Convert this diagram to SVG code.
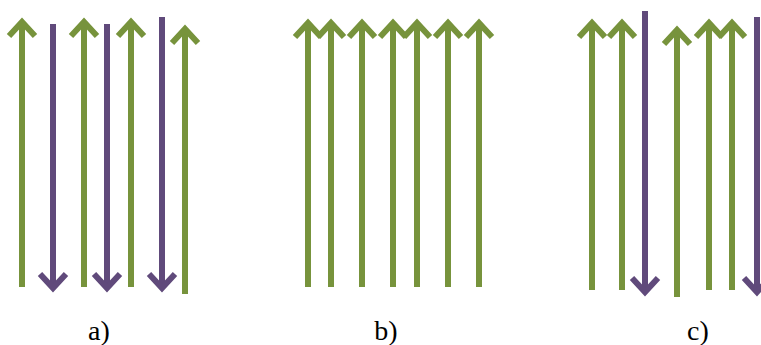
<svg xmlns="http://www.w3.org/2000/svg" width="761" height="345" viewBox="0 0 761 345">
<style>
.g{stroke:#77933C;stroke-width:6;fill:none;marker-end:url(#mg)}
.p{stroke:#604A7B;stroke-width:6;fill:none;marker-end:url(#mp)}
.lbl{font-family:"Liberation Serif","Times New Roman",serif;font-size:28px;fill:#000;text-anchor:middle}
</style>
<defs>
<marker id="mg" markerUnits="userSpaceOnUse" orient="auto" overflow="visible" refX="0" refY="0" markerWidth="30" markerHeight="30">
<path d="M-14,-13 L0,0 L-14,13" fill="none" stroke="#77933C" stroke-width="6" stroke-linejoin="miter"/>
</marker>
<marker id="mp" markerUnits="userSpaceOnUse" orient="auto" overflow="visible" refX="0" refY="0" markerWidth="30" markerHeight="30">
<path d="M-14,-13 L0,0 L-14,13" fill="none" stroke="#604A7B" stroke-width="6" stroke-linejoin="miter"/>
</marker>
</defs>
<rect width="761" height="345" fill="#fff"/>
<g id="connectors">
<g id="panel-a">
<line class="g" x1="22" y1="287" x2="22" y2="22"/>
<line class="p" x1="53" y1="24" x2="53" y2="288"/>
<line class="g" x1="84" y1="287" x2="84" y2="22"/>
<line class="p" x1="107" y1="24" x2="107" y2="288"/>
<line class="g" x1="131" y1="287" x2="131" y2="22"/>
<line class="p" x1="162" y1="17" x2="162" y2="288"/>
<line class="g" x1="185" y1="294" x2="185" y2="29"/>
</g>
<g id="panel-b">
<line class="g" x1="308" y1="287" x2="308" y2="23"/>
<line class="g" x1="331" y1="287" x2="331" y2="23"/>
<line class="g" x1="362" y1="287" x2="362" y2="23"/>
<line class="g" x1="393" y1="287" x2="393" y2="23"/>
<line class="g" x1="417" y1="287" x2="417" y2="23"/>
<line class="g" x1="448" y1="287" x2="448" y2="23"/>
<line class="g" x1="479" y1="287" x2="479" y2="23"/>
</g>
<g id="panel-c">
<line class="g" x1="592" y1="290" x2="592" y2="23"/>
<line class="g" x1="622" y1="290" x2="622" y2="23"/>
<line class="p" x1="645" y1="11" x2="645" y2="292"/>
<line class="g" x1="677" y1="297" x2="677" y2="30"/>
<line class="g" x1="709" y1="290" x2="709" y2="23"/>
<line class="g" x1="732" y1="290" x2="732" y2="23"/>
<line class="p" x1="757" y1="17" x2="757" y2="292"/>
</g>
</g>
<g id="labels">
<text class="lbl" x="99" y="340">a)</text>
<text class="lbl" x="386" y="340">b)</text>
<text class="lbl" x="698" y="340">c)</text>
</g>
</svg>
